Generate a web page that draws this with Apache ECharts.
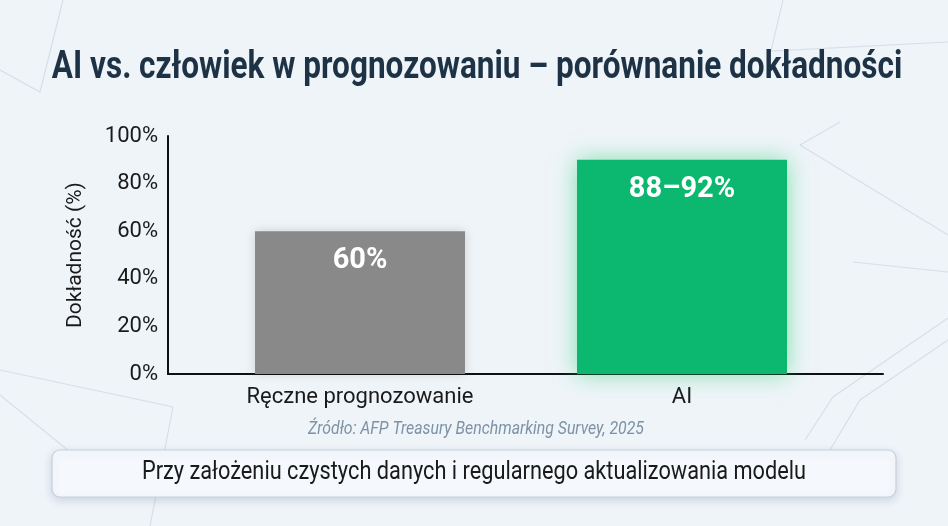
<!DOCTYPE html>
<html>
<head>
<meta charset="utf-8">
<script src="https://cdn.jsdelivr.net/npm/echarts@6/dist/echarts.min.js"></script>
<style>
  html, body { margin: 0; padding: 0; background: #eff4f9; }
  #chart { width: 948px; height: 526px; }
</style>
</head>
<body>
<div id="chart"></div>
<script>
// dane wykresu
var categories = ['Ręczne prognozowanie', 'AI'];
var values = [60, 90];
var valueLabels = ['60%', '88–92%'];
var barColors = ['#898989', '#0cb76f'];
var yTicks = [0, 20, 40, 60, 80, 100];

var titleText = 'AI vs. człowiek w prognozowaniu – porównanie dokładności';
var sourceText = 'Źródło: AFP Treasury Benchmarking Survey, 2025';
var noteText = 'Przy założeniu czystych danych i regularnego aktualizowania modelu';

var font = "Roboto, sans-serif";

// dekoracyjne linie w tle
var decoLines = [
    [[63, 0], [40, 92], [0, 70]],
    [[783, 0], [771, 51], [948, 42]],
    [[800, 145], [948, 235]],
    [[800, 145], [840, 122]],
    [[853, 262], [948, 272]],
    [[948, 318], [833, 397], [805, 440]],
    [[948, 340], [860, 400], [830, 450]],
    [[0, 370], [173, 407], [150, 526]],
    [[0, 395], [118, 491]]
];

var chart = echarts.init(document.getElementById('chart'));

var graphics = decoLines.map(function (pts) {
    return {
        type: 'polyline',
        z: -10,
        silent: true,
        shape: { points: pts },
        style: { stroke: '#d6dfe9', lineWidth: 1.2, fill: null }
    };
});

graphics.push({
    type: 'text',
    x: 477, y: 68,
    scaleX: 0.83,
    style: {
        text: titleText,
        font: "bold 38px Roboto, sans-serif",
        fill: '#1e3246',
        textAlign: 'center',
        textVerticalAlign: 'middle'
    }
});
graphics.push({
    type: 'text',
    x: 476, y: 429,
    scaleX: 0.88,
    style: {
        text: sourceText,
        font: "italic 18px Roboto, sans-serif",
        fill: '#7d92a4',
        textAlign: 'center',
        textVerticalAlign: 'middle'
    }
});
graphics.push({
    type: 'rect',
    shape: { x: 52, y: 450, width: 844, height: 47, r: 8 },
    style: {
        fill: '#f5f8fc',
        stroke: '#c5d1dd',
        lineWidth: 1.2,
        shadowBlur: 8,
        shadowOffsetY: 3,
        shadowColor: 'rgba(60,80,110,0.18)'
    }
});
graphics.push({
    type: 'text',
    x: 474, y: 473,
    scaleX: 0.87,
    style: {
        text: noteText,
        font: "25px Roboto, sans-serif",
        fill: '#1a1a1a',
        textAlign: 'center',
        textVerticalAlign: 'middle'
    }
});

var option = {
    backgroundColor: '#eff4f9',
    animation: false,
    graphic: graphics,
    grid: [
        { left: 168, right: 65, top: 136, bottom: 152 },
        { left: 199, right: 105, top: 136, bottom: 152 }
    ],
    xAxis: [
        {
            gridIndex: 0,
            type: 'value',
            min: 0, max: 1,
            axisLine: { show: true, onZero: false, lineStyle: { color: '#111', width: 2 } },
            axisTick: { show: false },
            axisLabel: { show: false },
            splitLine: { show: false }
        },
        {
            gridIndex: 1,
            type: 'category',
            data: categories,
            axisLine: { show: false },
            axisTick: { show: false },
            axisLabel: {
                color: '#1a1a1a',
                fontSize: 22,
                fontFamily: font,
                margin: 12
            }
        }
    ],
    yAxis: [
        {
            gridIndex: 0,
            type: 'value',
            min: 0, max: 100, interval: 20,
            name: 'Dokładność (%)',
            nameLocation: 'middle',
            nameGap: 82,
            nameTextStyle: { color: '#1a1a1a', fontSize: 21, fontFamily: font },
            axisLine: { show: true, lineStyle: { color: '#111', width: 2 } },
            axisTick: { show: false },
            splitLine: { show: false },
            axisLabel: {
                color: '#1a1a1a',
                fontSize: 22,
                fontFamily: font,
                margin: 10,
                formatter: function (v) { return yTicks.indexOf(v) >= 0 ? v + '%' : ''; }
            }
        },
        {
            gridIndex: 1,
            type: 'value',
            min: 0, max: 100,
            show: false
        }
    ],
    series: [
        {
            type: 'bar',
            xAxisIndex: 1,
            yAxisIndex: 1,
            barWidth: 210,
            z: 1,
            data: values.map(function (v, i) {
                return {
                    value: v,
                    itemStyle: {
                        color: barColors[i],
                        shadowBlur: i === 1 ? 22 : 10,
                        shadowColor: i === 1 ? 'rgba(40,210,110,0.55)' : 'rgba(0,0,0,0.15)'
                    },
                    label: {
                        show: true,
                        position: 'insideTop',
                        distance: 15,
                        formatter: valueLabels[i],
                        color: '#ffffff',
                        fontSize: 29,
                        fontWeight: 'bold',
                        fontFamily: font
                    }
                };
            })
        }
    ]
};

chart.setOption(option);
</script>
</body>
</html>
